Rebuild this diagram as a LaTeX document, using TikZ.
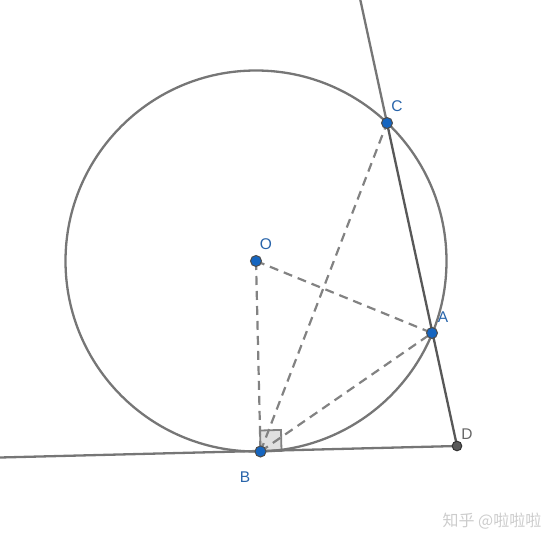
\documentclass[tikz,border=0pt]{standalone}
\usepackage{fontspec}
\setsansfont{Liberation Sans}
\newfontfamily\cjk{Noto Sans CJK SC}
\usetikzlibrary{calc}
\definecolor{geoblue}{RGB}{21,101,192}
\definecolor{geoline}{RGB}{118,118,118}
\definecolor{geodark}{RGB}{88,88,88}
\definecolor{geodash}{RGB}{130,130,130}
\definecolor{geolabel}{RGB}{40,100,170}
\tikzset{% styles of the figure
    solidline/.style={geoline, line width=2.3pt},
    dashline/.style={geodash, line width=2.2pt, dash pattern=on 9pt off 6pt},
    bluept/.style={fill=geoblue, draw=black!70, line width=1pt},
    lbl/.style={text=geolabel, font=\sffamily\fontsize{15.5}{17}\selectfont, inner sep=0pt}
}

\begin{document}
\begin{tikzpicture}[x=1pt, y=-1pt]
    \useasboundingbox (0,0) rectangle (559,545);
    \newcommand{\rad}{190.5}
    \newcommand{\ptsize}{5.5}

    % points
    \coordinate (O) at (256,261);
    \coordinate (B) at (260.5,451.5);
    \coordinate (C) at (387,123);
    \coordinate (A) at (432,333);
    \coordinate (D) at (457,446);
    \coordinate (E) at ($(D)!1.39!(C)$);
    \coordinate (L) at (0,457.5);

    % right angle at B
    \coordinate (Bx) at ($(B)!21pt!(D)$);
    \coordinate (By) at ($(B)!21pt!(O)$);
    \filldraw[fill=black!12, draw=geodash, line width=1.8pt]
        (B) -- (Bx) -- ($(Bx)+(By)-(B)$) -- (By) -- cycle;

    % circle and lines
    \draw[solidline] (O) circle (\rad);
    \draw[solidline] (L) -- (D);
    \draw[solidline] (E) -- (C);
    \draw[solidline, geodark] (C) -- (D);

    % dashed segments
    \draw[dashline] (O) -- (B);
    \draw[dashline] (O) -- (A);
    \draw[dashline] (B) -- (C);
    \draw[dashline] (B) -- (A);

    % sites
    \filldraw[bluept] (O) circle (\ptsize);
    \filldraw[bluept] (B) circle (\ptsize);
    \filldraw[bluept] (C) circle (\ptsize);
    \filldraw[bluept] (A) circle (\ptsize);
    \filldraw[fill=black!65, draw=black!80, line width=1pt] (D) circle (4.8);

    % labels
    \node[lbl] (lO) at (266,244) {O};
    \node[lbl] (lB) at (245,477) {B};
    \node[lbl] (lC) at (397,106) {C};
    \node[lbl] (lA) at (443,317) {A};
    \node[lbl, text=black!60] (lD) at (467,434) {D};

    % watermark
    \node[text=black!20, font=\cjk\fontsize{16}{18}\selectfont, inner sep=0pt] (wm) at (492,521) {知乎 @啦啦啦};
\end{tikzpicture}
\end{document}
